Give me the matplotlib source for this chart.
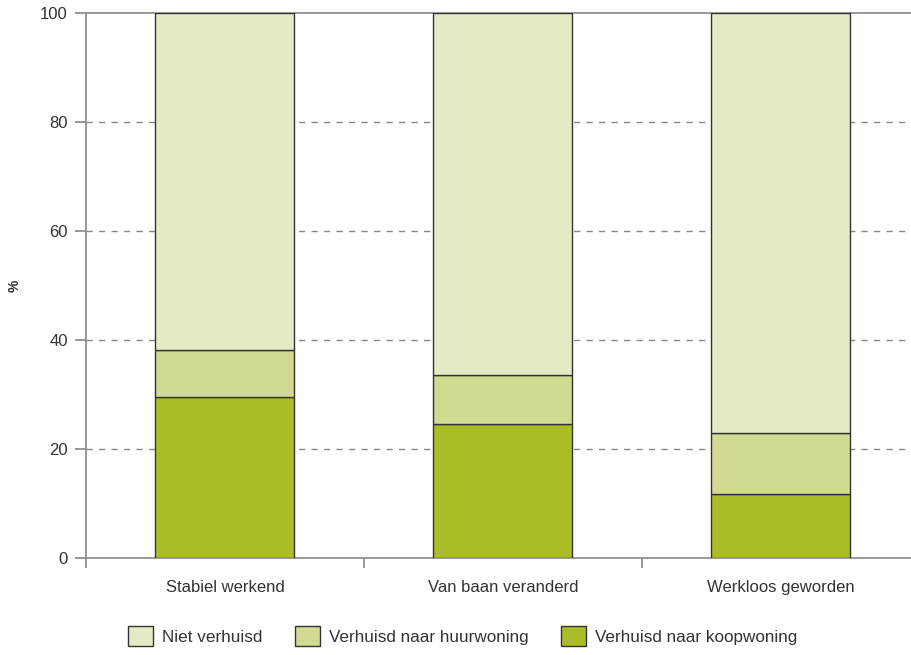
import matplotlib
matplotlib.use('Agg')
import matplotlib.pyplot as plt
import numpy as np

categories = ['Stabiel werkend', 'Van baan veranderd', 'Werkloos geworden']
koopwoning = [29.5, 24.6, 11.7]
huurwoning = [8.7, 9.0, 11.2]
niet_verhuisd = [61.8, 66.4, 77.1]
series_labels = ['Niet verhuisd', 'Verhuisd naar huurwoning', 'Verhuisd naar koopwoning']
colors = ['#e5e9c4', '#d2d991', '#aabd26']

plt.rcParams['font.family'] = ['Liberation Sans', 'DejaVu Sans']

fig = plt.figure(figsize=(9.12, 6.55), dpi=100)
ax = fig.add_axes([86 / 912, 1 - 558 / 655, 834 / 912, 545 / 655])

x = np.arange(len(categories))
edge = '#333333'
b1 = ax.bar(x, koopwoning, width=0.5, color=colors[2], edgecolor=edge, linewidth=1, zorder=3)
b2 = ax.bar(x, huurwoning, width=0.5, bottom=koopwoning, color=colors[1], edgecolor=edge, linewidth=1, zorder=3)
bottom2 = np.array(koopwoning) + np.array(huurwoning)
b3 = ax.bar(x, niet_verhuisd, width=0.5, bottom=bottom2, color=colors[0], edgecolor=edge, linewidth=1, zorder=3)

ax.set_xlim(-0.5, 2.5)
ax.set_ylim(0, 100)
ax.set_yticks([0, 20, 40, 60, 80, 100])
ax.tick_params(axis='y', length=8, width=1.2, color='#888888', labelsize=12, labelcolor='#333333', pad=5)
ax.set_xticks([-0.5, 0.5, 1.5])
ax.set_xticklabels([])
ax.tick_params(axis='x', length=7, width=1.2, color='#888888')
ax.set_xticks(x, minor=True)
ax.set_xticklabels(categories, minor=True)
ax.tick_params(axis='x', which='minor', length=0, labelsize=12, labelcolor='#333333', pad=16)

for y in [20, 40, 60, 80]:
    ax.axhline(y, color='#888888', linestyle=(0, (4.5, 4.5)), linewidth=1, zorder=1)

for s in ['left', 'bottom', 'top']:
    ax.spines[s].set_color('#888888')
    ax.spines[s].set_linewidth(1.2)
ax.spines['right'].set_visible(False)

ax.set_ylabel('%', fontsize=10, fontweight='bold', color='#333333')
ax.yaxis.set_label_coords(-0.077, 0.5)

fig.legend([b3, b2, b1], series_labels, loc='center', bbox_to_anchor=(0.507, 1 - 636 / 655),
           ncol=3, frameon=False, fontsize=12.3, handlelength=1.5, handleheight=1.5,
           columnspacing=1.9, handletextpad=0.5, labelcolor='#333333')

fig.savefig('out.png', dpi=100)
